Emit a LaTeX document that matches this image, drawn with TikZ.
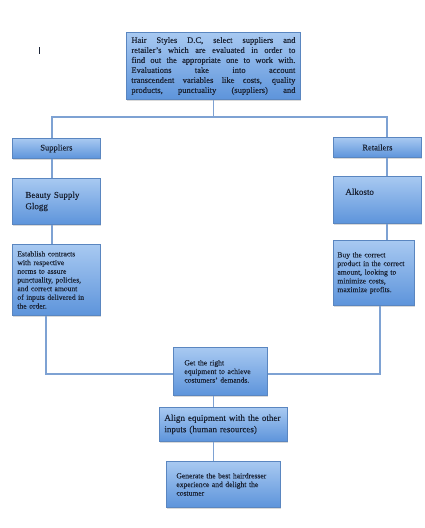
\documentclass[tikz,border=0pt]{standalone}
\usepackage{fontspec}
\setmainfont[FakeBold=0.35]{Liberation Serif}
\usetikzlibrary{positioning,shadows}
\definecolor{BoxTop}{HTML}{A8C9F1}
\definecolor{BoxBot}{HTML}{5D94DB}
\definecolor{BoxLine}{HTML}{5A86C0}
\definecolor{Link}{HTML}{7EA2D3}
\definecolor{Ink}{HTML}{1C2537}

\begin{document}
\begin{tikzpicture}[x=1pt,y=-1pt,
  box/.style={draw=BoxLine,line width=0.8pt,top color=BoxTop,bottom color=BoxBot,
    anchor=north west,align=left,inner ysep=2pt,text=Ink,
    drop shadow={shadow xshift=1pt,shadow yshift=-1.5pt,opacity=0.3}},
  link/.style={Link,line width=1.8pt},
  bigtxt/.style={font=\fontsize{9}{11.3}\selectfont},
  smalltxt/.style={font=\fontsize{7.6}{8.7}\selectfont}]
  \useasboundingbox (0,0) rectangle (425,528);
  \fill[Ink] (38.6,47) rectangle (40,54);
  % top box
  \node[box,align=justify,text width=164pt,inner xsep=5pt,minimum height=67pt,
    font=\fontsize{8.5}{10}\selectfont] (top) at (126,32)
    {Hair Styles D.C, select suppliers and\linebreak
     retailer’s which are evaluated in order to\linebreak
     find out the appropriate one to work with.\linebreak
     Evaluations take into account\linebreak
     transcendent variables like costs, quality\linebreak
     products,\hfill punctuality\hfill (suppliers)\hfill and};
  % suppliers side
  \node[box,align=center,text width=80pt,inner xsep=4pt,minimum height=20pt,
    font=\fontsize{8.5}{10}\selectfont] (sup) at (12,138) {Suppliers};
  \node[box,bigtxt,text width=62pt,inner xsep=13pt,minimum height=46pt] (glogg) at (12,178)
    {Beauty Supply\\Glogg};
  \node[box,smalltxt,text width=78pt,inner xsep=5pt,minimum height=71pt] (estab) at (12,244)
    {Establish contracts\\with respective\\norms to assure\\punctuality, policies,\\
     and correct amount\\of inputs delivered in\\the order.};
  % retailers side
  \node[box,align=center,text width=80pt,inner xsep=4pt,minimum height=20pt,
    font=\fontsize{8.5}{10}\selectfont] (ret) at (333,137) {Retailers};
  \node[box,bigtxt,text width=64pt,inner xsep=12pt,minimum height=47pt] (alk) at (333,176)
    {Alkosto\\[5pt]\mbox{}};
  \node[box,smalltxt,text width=73pt,inner xsep=4pt,minimum height=65pt] (buy) at (333,240)
    {Buy the correct\\product in the correct\\amount, looking to\\minimize costs,\\maximize profits.};
  % bottom chain
  \node[box,smalltxt,text width=72pt,inner xsep=11pt,minimum height=48pt] (equip) at (173,347)
    {Get the right\\equipment to achieve\\costumers’ demands.};
  \node[box,bigtxt,text width=118pt,inner xsep=5pt,minimum height=34pt] (align) at (159,407)
    {Align equipment with the other\\inputs (human resources)};
  \node[box,smalltxt,text width=94pt,inner xsep=10pt,minimum height=46pt] (gen) at (166,461)
    {\mbox{Generate the best hairdresser}\\experience and delight the\\costumer};

  \coordinate (lbus) at (52,117);
  \coordinate (rbus) at (387,117);
  \coordinate (lbot) at (46,374);
  \coordinate (rbot) at (380,374);
  \draw[link] (top.south) |- (lbus) -- (sup.north -| lbus);
  \draw[link] (top.south) |- (rbus) -- (ret.north -| rbus);
  \draw[link] (sup.south -| lbus) -- (glogg.north -| lbus);
  \draw[link] (glogg.south -| lbus) -- (estab.north -| lbus);
  \draw[link] (ret.south -| rbus) -- (alk.north -| rbus);
  \draw[link] (alk.south -| rbus) -- (buy.north -| rbus);
  \draw[link] (estab.south -| lbot) |- (equip.west |- lbot);
  \draw[link] (buy.south -| rbot) |- (equip.east |- rbot);
  \draw[link] (equip.south -| top.south) -- (align.north -| top.south);
  \draw[link] (align.south -| top.south) -- (gen.north -| top.south);
\end{tikzpicture}
\end{document}
